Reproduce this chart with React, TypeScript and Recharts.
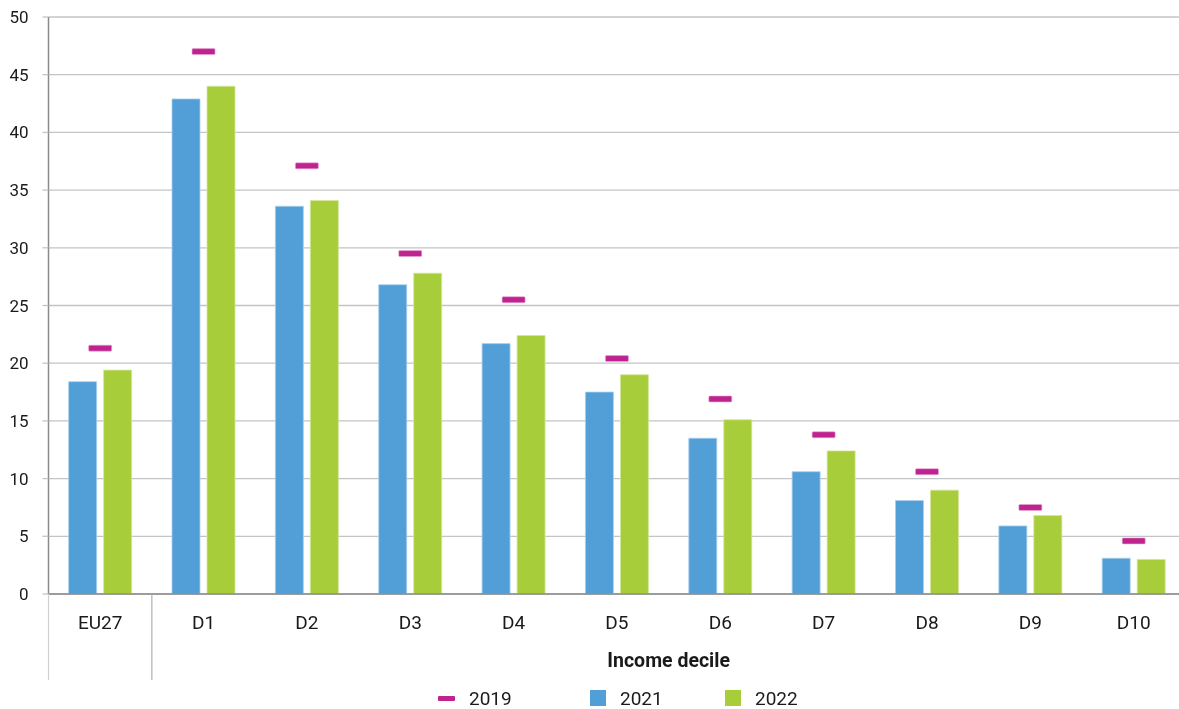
import React from 'react';
import { ComposedChart, Bar, Line, XAxis, YAxis, CartesianGrid, Legend } from 'recharts';

const categories = ['EU27', 'D1', 'D2', 'D3', 'D4', 'D5', 'D6', 'D7', 'D8', 'D9', 'D10'];
const values2019 = [21.3, 47.0, 37.1, 29.5, 25.5, 20.4, 16.9, 13.8, 10.6, 7.5, 4.6];
const values2021 = [18.4, 42.9, 33.6, 26.8, 21.7, 17.5, 13.5, 10.6, 8.1, 5.9, 3.1];
const values2022 = [19.4, 44.0, 34.1, 27.8, 22.4, 19.0, 15.1, 12.4, 9.0, 6.8, 3.0];
const yTicks = [0, 5, 10, 15, 20, 25, 30, 35, 40, 45, 50];
const seriesNames = ['2019', '2021', '2022'];
const xAxisTitle = 'Income decile';

const data = categories.map((c, i) => ({
  cat: c,
  y2019: values2019[i],
  y2021: values2021[i],
  y2022: values2022[i],
}));

const FONT = 'Roboto, "Noto Sans", sans-serif';
const MAGENTA = '#BE2390';
const BLUE = '#529FD7';
const GREEN = '#A8CD3A';

const CHART_W = 1190;
const CHART_H = 701;
const MARGIN = { top: 9, right: 12.6, left: 0, bottom: 85 };
const Y_W = 40.5;
const BAND = (CHART_W - MARGIN.left - MARGIN.right - Y_W) / categories.length;

const XTick = (props: any) => {
  const { x, y, payload, index } = props;
  const left = x - BAND / 2;
  return (
    <g>
      {index <= 1 && (
        <line x1={left} x2={left} y1={y} y2={y + 86} stroke={index === 0 ? '#cfcfcf' : '#b0b0b0'} strokeWidth={1.2} />
      )}
      <text x={x} y={y + 28} dy="0.36em" textAnchor="middle" fontFamily={FONT} fontSize={19} fill="#1a1a1a">
        {payload.value}
      </text>
    </g>
  );
};

const MarkerDot = (props: any) => {
  const { cx, cy } = props;
  if (cx == null || cy == null) return null;
  return <rect x={cx - 11.5} y={cy - 3} width={23} height={6} rx={1} fill={MAGENTA} stroke="#e7a8d3" strokeWidth={0.6} />;
};

const AxisTitle = (props: any) => {
  const vb = props.viewBox || {};
  const band = vb.width / categories.length;
  const cx = vb.x + band + (vb.width - band) / 2;
  return (
    <text x={cx} y={vb.y + 66} dy="0.36em" textAnchor="middle" fontFamily={FONT} fontWeight={700} fontSize={19.5} fill="#1a1a1a">
      {xAxisTitle}
    </text>
  );
};

const LegendContent = () => {
  const item = (swatch: React.ReactNode, label: string, left: number) => (
    <div style={{ position: 'absolute', left, top: 0, height: 24, display: 'flex', alignItems: 'center' }}>
      {swatch}
      <span style={{ fontFamily: FONT, fontSize: 19, color: '#1a1a1a', marginLeft: 14 }}>{label}</span>
    </div>
  );
  return (
    <div style={{ position: 'relative', width: 1171, height: 24 }}>
      {item(<div style={{ width: 17, height: 5, background: MAGENTA, borderRadius: 1 }} />, seriesNames[0], 430)}
      {item(<div style={{ width: 16, height: 16, background: BLUE }} />, seriesNames[1], 582)}
      {item(<div style={{ width: 16, height: 16, background: GREEN }} />, seriesNames[2], 717)}
    </div>
  );
};

export default function App() {
  return (
    <div style={{ position: 'fixed', top: 8, left: 8, width: 1171, height: CHART_H, overflow: 'hidden' }}>
      <ComposedChart
        width={CHART_W}
        height={CHART_H}
        data={data}
        margin={MARGIN}
        barCategoryGap="19.5%"
        barGap={7}
      >
        <CartesianGrid vertical={false} stroke="#c4c4c4" strokeWidth={1.3} />
        <XAxis
          dataKey="cat"
          height={30}
          tickSize={0}
          tickMargin={0}
          tickLine={false}
          axisLine={{ stroke: '#8a8a8a', strokeWidth: 1.5 }}
          tick={<XTick />}
          interval={0}
          label={<AxisTitle />}
        />
        <YAxis
          width={Y_W}
          domain={[0, 50]}
          ticks={yTicks}
          interval={0}
          tickSize={6}
          tickMargin={14}
          tickLine={{ stroke: '#c4c4c4', strokeWidth: 1.3 }}
          axisLine={{ stroke: '#8a8a8a', strokeWidth: 1.5 }}
          tick={{ fontFamily: FONT, fontSize: 17, fill: '#1a1a1a' }}
        />
        <Legend
          layout="horizontal"
          verticalAlign="middle"
          align="center"
          wrapperStyle={{ top: 678, left: 0, width: 1171 }}
          content={<LegendContent />}
        />
        <Bar dataKey="y2021" name={seriesNames[1]} fill={BLUE} stroke="#a9d0ee" strokeWidth={0.8} isAnimationActive={false} />
        <Bar dataKey="y2022" name={seriesNames[2]} fill={GREEN} stroke="#d3e79c" strokeWidth={0.8} isAnimationActive={false} />
        <Line
          dataKey="y2019"
          name={seriesNames[0]}
          stroke="none"
          dot={<MarkerDot />}
          activeDot={false}
          isAnimationActive={false}
        />
      </ComposedChart>
    </div>
  );
}
